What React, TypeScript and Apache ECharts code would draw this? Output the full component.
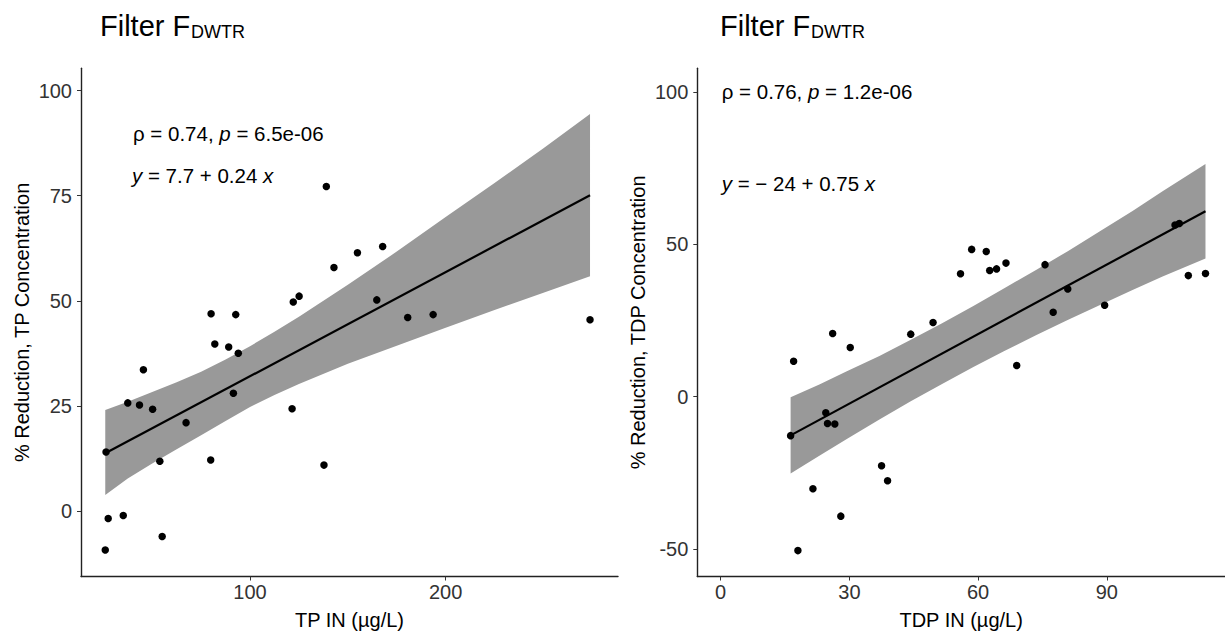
import React, { useEffect, useRef } from "react";
import * as echarts from "echarts";

// ---------- Data ----------
// Left panel: TP
const tpIn = [26.0, 26.4, 27.5, 35.2, 37.5, 43.5, 45.5, 50.2, 53.9, 55.1, 67.3, 79.9, 80.1, 82.0, 89.1, 91.5, 92.7, 94.0, 121.5, 122.1, 125.1, 137.8, 139.0, 142.9, 154.9, 164.8, 167.8, 180.6, 193.6, 273.8];
const tpReduction = [-9.3, 14.0, -1.8, -1.1, 25.7, 25.2, 33.6, 24.2, 11.8, -6.1, 21.0, 12.1, 46.9, 39.7, 39.0, 28.0, 46.7, 37.5, 24.3, 49.7, 51.1, 10.9, 77.2, 57.9, 61.4, 50.2, 62.9, 46.0, 46.7, 45.5];
const tpFitX = [26.0, 273.8];
const tpFitY = [13.7, 75.1];
const tpBandX = [26, 37.5, 50, 62.5, 75, 87.5, 100, 112.5, 125, 150, 175, 200, 225, 250, 273.8];
const tpBandLo = [3.8, 7.7, 11.3, 14.7, 18.0, 21.4, 24.7, 27.6, 30.2, 35.0, 39.3, 43.6, 47.8, 51.9, 55.8];
const tpBandHi = [24.0, 26.0, 28.3, 30.6, 33.1, 36.0, 39.2, 42.6, 46.2, 53.8, 61.7, 69.9, 78.0, 86.3, 94.4];
const tpXTicks = [100, 200];
const tpYTicks = [0, 25, 50, 75, 100];

// Right panel: TDP
const tdpIn = [16.3, 17.0, 18.0, 21.5, 24.5, 24.9, 26.6, 26.1, 28.0, 30.2, 37.5, 38.9, 44.3, 49.5, 55.9, 58.5, 61.9, 62.7, 64.3, 66.5, 69.0, 75.6, 77.5, 80.9, 89.5, 105.9, 106.9, 109.0, 113.0];
const tdpReduction = [-12.8, 11.6, -50.5, -30.2, -5.3, -8.8, -9.0, 20.7, -39.2, 16.1, -22.7, -27.6, 20.5, 24.3, 40.3, 48.3, 47.6, 41.4, 41.9, 43.8, 10.2, 43.3, 27.7, 35.3, 30.0, 56.3, 56.8, 39.7, 40.4];
const tdpFitX = [16.3, 113.0];
const tdpFitY = [-12.7, 60.8];
const tdpBandX = [16.3, 23, 29.4, 37, 44.2, 51.5, 58.9, 66, 73.6, 81, 88.3, 96, 103, 113.0];
const tdpBandLo = [-25.2, -19.4, -13.9, -7.5, -1.6, 4.1, 9.7, 14.9, 20.2, 25.2, 30.0, 35.0, 39.4, 45.3];
const tdpBandHi = [-0.2, 4.0, 8.3, 13.3, 18.6, 24.0, 29.7, 35.5, 41.6, 47.8, 54.2, 60.9, 67.4, 76.3];
const tdpXTicks = [0, 30, 60, 90];
const tdpYTicks = [-50, 0, 50, 100];

// Text
const panelTitleMain = "Filter F";
const panelTitleSub = "DWTR";
const tpXName = "TP IN (µg/L)";
const tpYName = "% Reduction, TP Concentration";
const tdpXName = "TDP IN (µg/L)";
const tdpYName = "% Reduction, TDP Concentration";
const tpStat1 = "{n|ρ = 0.74, }{i|p}{n| = 6.5e-06}";
const tpStat2 = "{i|y}{n| = 7.7 + 0.24 }{i|x}";
const tdpStat1 = "{n|ρ = 0.76, }{i|p}{n| = 1.2e-06}";
const tdpStat2 = "{i|y}{n| = − 24 + 0.75 }{i|x}";

const FONT = "'Liberation Sans', Arial, Helvetica, sans-serif";
const BAND = "#999999";

function bandSeries(xs: number[], lo: number[], hi: number[], idx: number) {
  return {
    type: "custom",
    xAxisIndex: idx,
    yAxisIndex: idx,
    z: 1,
    silent: true,
    data: xs.map((x, i) => [x, lo[i], hi[i]]),
    encode: { x: 0, y: [1, 2] },
    renderItem: (params: any, api: any) => {
      if (params.dataIndex !== 0) return null;
      const pts: number[][] = [];
      for (let i = 0; i < xs.length; i++) pts.push(api.coord([xs[i], hi[i]]));
      for (let i = xs.length - 1; i >= 0; i--) pts.push(api.coord([xs[i], lo[i]]));
      return { type: "polygon", shape: { points: pts }, style: { fill: BAND } };
    },
  };
}

function xAxisCfg(idx: number, min: number, max: number, ticks: number[], name: string) {
  return {
    type: "value",
    gridIndex: idx,
    min,
    max,
    name,
    nameLocation: "middle",
    nameGap: 33,
    nameTextStyle: { fontFamily: FONT, fontSize: 20, color: "#000" },
    axisLine: { show: true, onZero: false, lineStyle: { color: "#222", width: 1.4 } },
    axisTick: { show: true, length: 4, customValues: ticks, lineStyle: { color: "#333", width: 1 } },
    axisLabel: { customValues: ticks, margin: 5, fontFamily: FONT, fontSize: 20, color: "#333" },
    splitLine: { show: false },
  };
}

function yAxisCfg(idx: number, min: number, max: number, ticks: number[], name: string) {
  return {
    type: "value",
    gridIndex: idx,
    min,
    max,
    name,
    nameLocation: "middle",
    nameGap: 49,
    nameRotate: 90,
    nameTextStyle: { fontFamily: FONT, fontSize: 20, color: "#000" },
    axisLine: { show: true, onZero: false, lineStyle: { color: "#222", width: 1.4 } },
    axisTick: { show: true, length: 4, customValues: ticks, lineStyle: { color: "#333", width: 1 } },
    axisLabel: { customValues: ticks, margin: 9, fontFamily: FONT, fontSize: 20, color: "#333" },
    splitLine: { show: false },
  };
}

const richStyles = {
  n: { fontFamily: FONT, fontSize: 20.5, fill: "#000", color: "#000" },
  i: { fontFamily: FONT, fontSize: 20.5, fontStyle: "italic", fill: "#000", color: "#000" },
};

function titleTexts(x: number) {
  return [
    {
      type: "text",
      x,
      y: 26,
      style: { text: panelTitleMain, fontFamily: FONT, fontSize: 29, fill: "#000", verticalAlign: "middle", align: "left" },
    },
    {
      type: "text",
      x: x + 91,
      y: 31.7,
      style: { text: panelTitleSub, fontFamily: FONT, fontSize: 18, fill: "#000", verticalAlign: "middle", align: "left" },
    },
  ];
}

function statText(x: number, y: number, text: string) {
  return {
    type: "text",
    x,
    y,
    style: { text, rich: richStyles, fontFamily: FONT, fontSize: 20.5, fill: "#000", verticalAlign: "middle", align: "left" },
  };
}

export default function App() {
  const ref = useRef<HTMLDivElement>(null);

  useEffect(() => {
    if (!ref.current) return;
    const chart = echarts.init(ref.current, null, { renderer: "svg" });
    const option: any = {
      animation: false,
      backgroundColor: "#ffffff",
      grid: [
        { left: 81, top: 68.3, width: 537, height: 508.2, containLabel: false, outerBoundsMode: "none" },
        { left: 697.3, top: 68.3, width: 527.7, height: 508.2, containLabel: false, outerBoundsMode: "none" },
      ],
      xAxis: [
        xAxisCfg(0, 13.6, 288.1, tpXTicks, tpXName),
        xAxisCfg(1, -5.45, 117.55, tdpXTicks, tdpXName),
      ],
      yAxis: [
        yAxisCfg(0, -15.6, 105.3, tpYTicks, tpYName),
        yAxisCfg(1, -59.0, 107.7, tdpYTicks, tdpYName),
      ],
      series: [
        bandSeries(tpBandX, tpBandLo, tpBandHi, 0),
        {
          type: "line",
          xAxisIndex: 0,
          yAxisIndex: 0,
          z: 2,
          symbol: "none",
          data: tpFitX.map((x, i) => [x, tpFitY[i]]),
          lineStyle: { color: "#000", width: 2.2 },
        },
        {
          type: "scatter",
          xAxisIndex: 0,
          yAxisIndex: 0,
          z: 3,
          symbolSize: 7.5,
          itemStyle: { color: "#000", opacity: 1 },
          data: tpIn.map((x, i) => [x, tpReduction[i]]),
        },
        bandSeries(tdpBandX, tdpBandLo, tdpBandHi, 1),
        {
          type: "line",
          xAxisIndex: 1,
          yAxisIndex: 1,
          z: 2,
          symbol: "none",
          data: tdpFitX.map((x, i) => [x, tdpFitY[i]]),
          lineStyle: { color: "#000", width: 2.2 },
        },
        {
          type: "scatter",
          xAxisIndex: 1,
          yAxisIndex: 1,
          z: 3,
          symbolSize: 7.5,
          itemStyle: { color: "#000", opacity: 1 },
          data: tdpIn.map((x, i) => [x, tdpReduction[i]]),
        },
      ],
      graphic: [
        ...titleTexts(100),
        ...titleTexts(720),
        statText(133, 133.3, tpStat1),
        statText(132, 175, tpStat2),
        statText(721.7, 91.7, tdpStat1),
        statText(721.7, 183.3, tdpStat2),
      ],
    };
    chart.setOption(option);
    return () => chart.dispose();
  }, []);

  return (
    <div
      ref={ref}
      style={{ position: "fixed", left: 0, top: 0, width: 1225, height: 635, background: "#fff" }}
    />
  );
}
